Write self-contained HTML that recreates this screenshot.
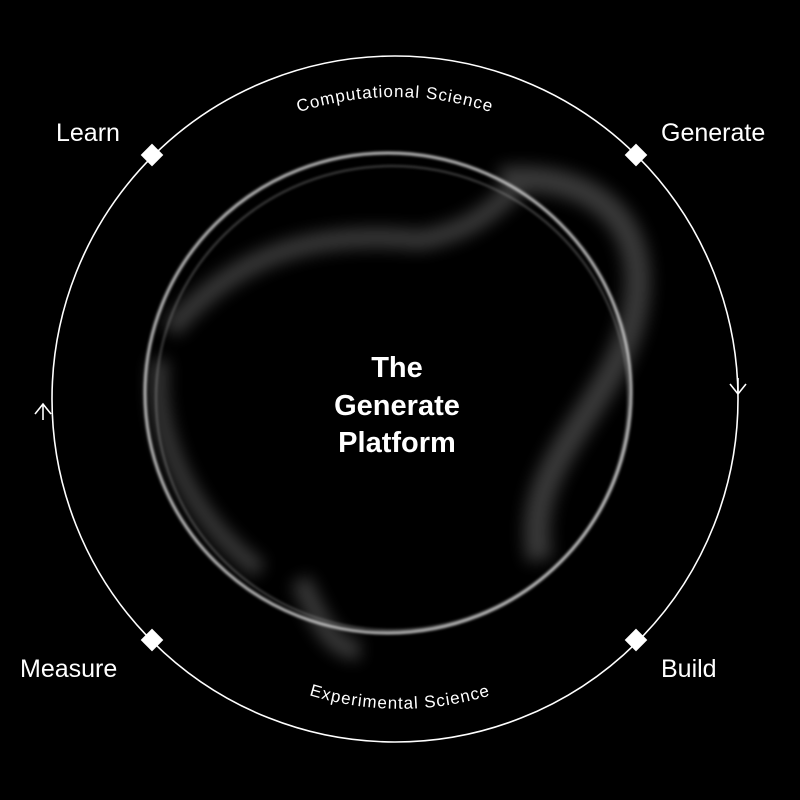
<!DOCTYPE html>
<html><head><meta charset="utf-8"><style>
html,body{margin:0;padding:0;background:#000;}
svg{display:block}
</style></head><body>
<svg width="800" height="800" viewBox="0 0 800 800" xmlns="http://www.w3.org/2000/svg">
<rect width="800" height="800" fill="#000"/>
<defs>
<filter id="blur" x="-20%" y="-20%" width="140%" height="140%"><feGaussianBlur stdDeviation="8"/></filter>
<filter id="blur2" x="-20%" y="-20%" width="140%" height="140%"><feGaussianBlur stdDeviation="1.2"/></filter>
<path id="topArc" d="M 200 166 A 310 310 0 0 1 590 166"/>
<path id="botArc" d="M 230 658 A 310 310 0 0 0 570 658"/>
</defs>
<circle cx="395" cy="399" r="343" fill="none" stroke="#fff" stroke-width="1.6"/>
<g filter="url(#blur)" opacity="0.3" fill="none" stroke="#bbb">
<path d="M 500 180 C 600 170 660 230 630 330 C 600 420 520 470 540 560" stroke-width="26"/>
<path d="M 170 330 C 240 250 320 230 420 240 C 480 230 500 200 520 185" stroke-width="20"/>
<path d="M 300 580 C 320 620 330 650 360 650" stroke-width="20"/>
<path d="M 160 360 C 150 430 190 520 260 570" stroke-width="18"/>
</g>
<g filter="url(#blur2)" fill="none" stroke="#ddd">
<ellipse cx="388" cy="393" rx="243" ry="240" stroke-width="3" opacity="0.85"/>
<ellipse cx="392" cy="398" rx="236" ry="232" stroke-width="1.5" opacity="0.4"/>
</g>
<g fill="#fff">
<rect x="144" y="147" width="16" height="16" transform="rotate(45 152 155)"/>
<rect x="628" y="147" width="16" height="16" transform="rotate(45 636 155)"/>
<rect x="144" y="632" width="16" height="16" transform="rotate(45 152 640)"/>
<rect x="628" y="632" width="16" height="16" transform="rotate(45 636 640)"/>
</g>
<g fill="none" stroke="#fff" stroke-width="1.6">
<path d="M 35 414 L 43 404 L 51 414 M 43 404 L 43 420"/>
<path d="M 730 384 L 738 394 L 746 384 M 738 394 L 738 378"/>
</g>
<g font-family="Liberation Sans, sans-serif" fill="#fff">
<text x="56" y="141" font-size="25">Learn</text>
<text x="661" y="141" font-size="25">Generate</text>
<text x="20" y="677" font-size="25">Measure</text>
<text x="661" y="677" font-size="25">Build</text>
<text font-size="17" letter-spacing="1"><textPath href="#topArc" startOffset="50%" text-anchor="middle">Computational Science</textPath></text>
<text font-size="17" letter-spacing="1"><textPath href="#botArc" startOffset="50%" text-anchor="middle">Experimental Science</textPath></text>
<text x="397" y="377" font-size="29" font-weight="bold" text-anchor="middle">The</text>
<text x="397" y="415" font-size="29" font-weight="bold" text-anchor="middle">Generate</text>
<text x="397" y="452" font-size="29" font-weight="bold" text-anchor="middle">Platform</text>
</g>
</svg>
</body></html>
